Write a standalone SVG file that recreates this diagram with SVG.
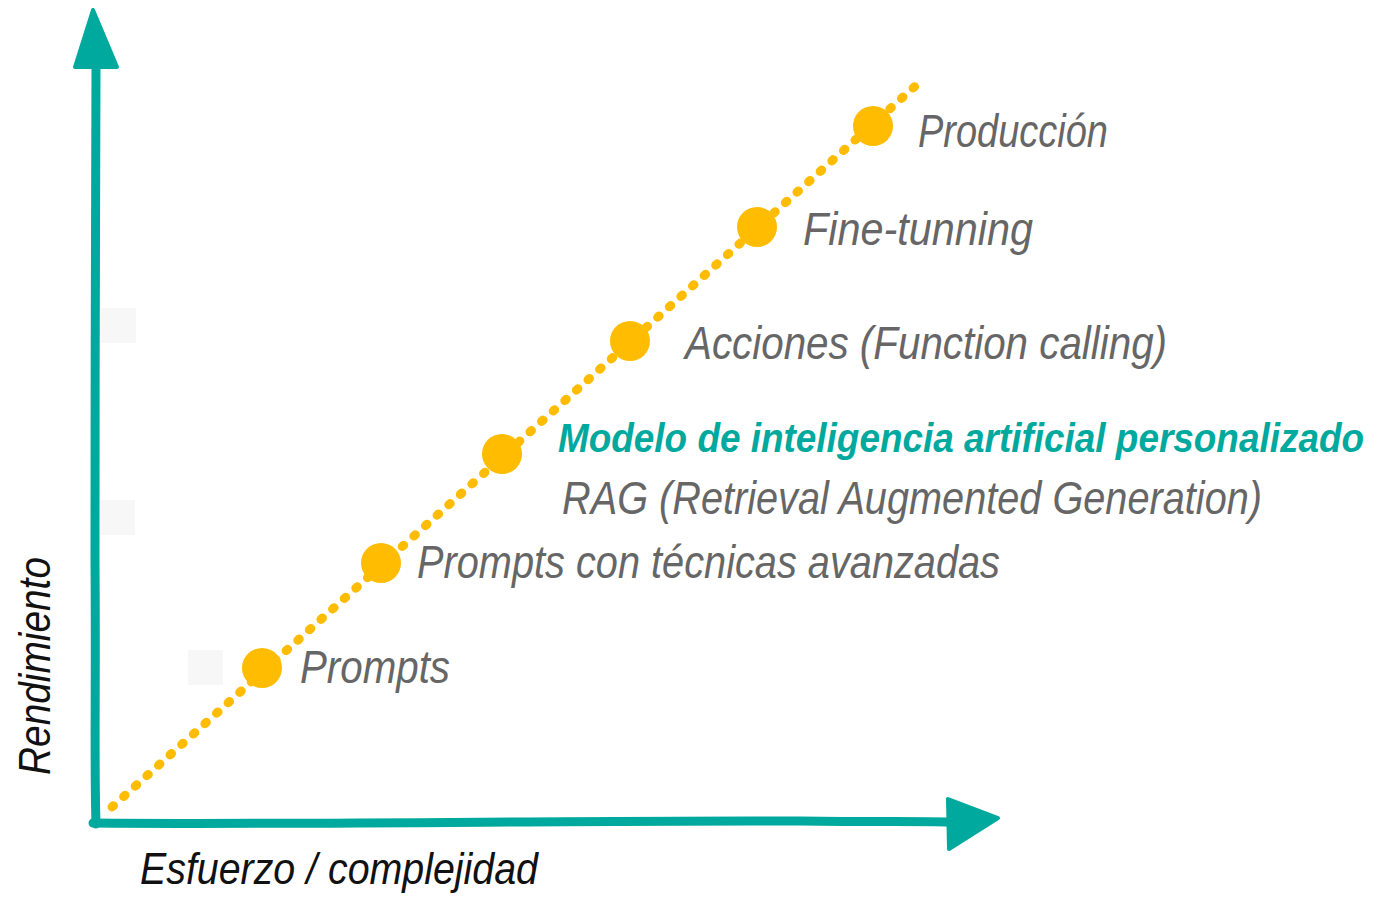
<svg xmlns="http://www.w3.org/2000/svg" width="1389" height="898" viewBox="0 0 1389 898">
<style>
.axis{fill:none;stroke:#00A99D;stroke-width:9;stroke-linecap:round;stroke-linejoin:round}
.head{fill:#00A99D;stroke:#00A99D;stroke-width:4;stroke-linejoin:round}
.trend{fill:none;stroke:#FFBC00;stroke-width:9;stroke-linecap:round;stroke-dasharray:2 13.6}
.dot{fill:#FFBC00}
.lbl{font-family:"Liberation Sans",Arial,sans-serif;font-style:italic;font-size:46px;fill:#666666}
.ttl{font-family:"Liberation Sans",Arial,sans-serif;font-style:italic;font-weight:bold;font-size:41px;fill:#00A99D}
.ax{font-family:"Liberation Sans",Arial,sans-serif;font-style:italic;font-size:44px;fill:#111111}
.ghost{fill:#F7F7F7}
</style>
<rect width="1389" height="898" fill="#FFFFFF"/>
<g id="ghosts">
<rect class="ghost" x="101" y="308" width="35" height="35"/>
<rect class="ghost" x="100" y="500" width="35" height="35"/>
<rect class="ghost" x="188" y="650" width="35" height="35"/>
</g>
<g id="connectors">
<path class="axis" d="M96 66 C97 200 94 400 95 560 C96 700 94 760 96 824"/>
<polygon class="head" points="93,10 117,67 75,67"/>
<path class="axis" d="M93 823 C300 825 600 820 800 821 C880 822 920 821 950 822"/>
<polygon class="head" points="998,818 948,799 949,849"/>
<path class="trend" d="M112 807 L922 80"/>
</g>
<g id="n-prompts"><circle class="dot" cx="262" cy="668" r="20"/><text class="lbl" x="300" y="683" textLength="150" lengthAdjust="spacingAndGlyphs">Prompts</text></g>
<g id="n-avanzadas"><circle class="dot" cx="381" cy="563" r="20"/><text class="lbl" x="417" y="578" textLength="583" lengthAdjust="spacingAndGlyphs">Prompts con técnicas avanzadas</text></g>
<g id="n-rag"><circle class="dot" cx="502" cy="454" r="20"/>
<text class="ttl" x="558" y="452" textLength="806" lengthAdjust="spacingAndGlyphs">Modelo de inteligencia artificial personalizado</text>
<text class="lbl" x="562" y="514" textLength="700" lengthAdjust="spacingAndGlyphs">RAG (Retrieval Augmented Generation)</text></g>
<g id="n-acciones"><circle class="dot" cx="630" cy="341" r="20"/><text class="lbl" x="685" y="359" textLength="482" lengthAdjust="spacingAndGlyphs">Acciones (Function calling)</text></g>
<g id="n-finetuning"><circle class="dot" cx="757" cy="227" r="20"/><text class="lbl" x="803" y="245" textLength="230" lengthAdjust="spacingAndGlyphs">Fine-tunning</text></g>
<g id="n-produccion"><circle class="dot" cx="873" cy="126" r="20"/><text class="lbl" x="918" y="147" textLength="190" lengthAdjust="spacingAndGlyphs">Producción</text></g>
<g id="axis-labels">
<text class="ax" transform="translate(50 775) rotate(-90)" x="0" y="0" textLength="218" lengthAdjust="spacingAndGlyphs">Rendimiento</text>
<text class="ax" x="140" y="884" textLength="398" lengthAdjust="spacingAndGlyphs">Esfuerzo / complejidad</text>
</g>
</svg>
